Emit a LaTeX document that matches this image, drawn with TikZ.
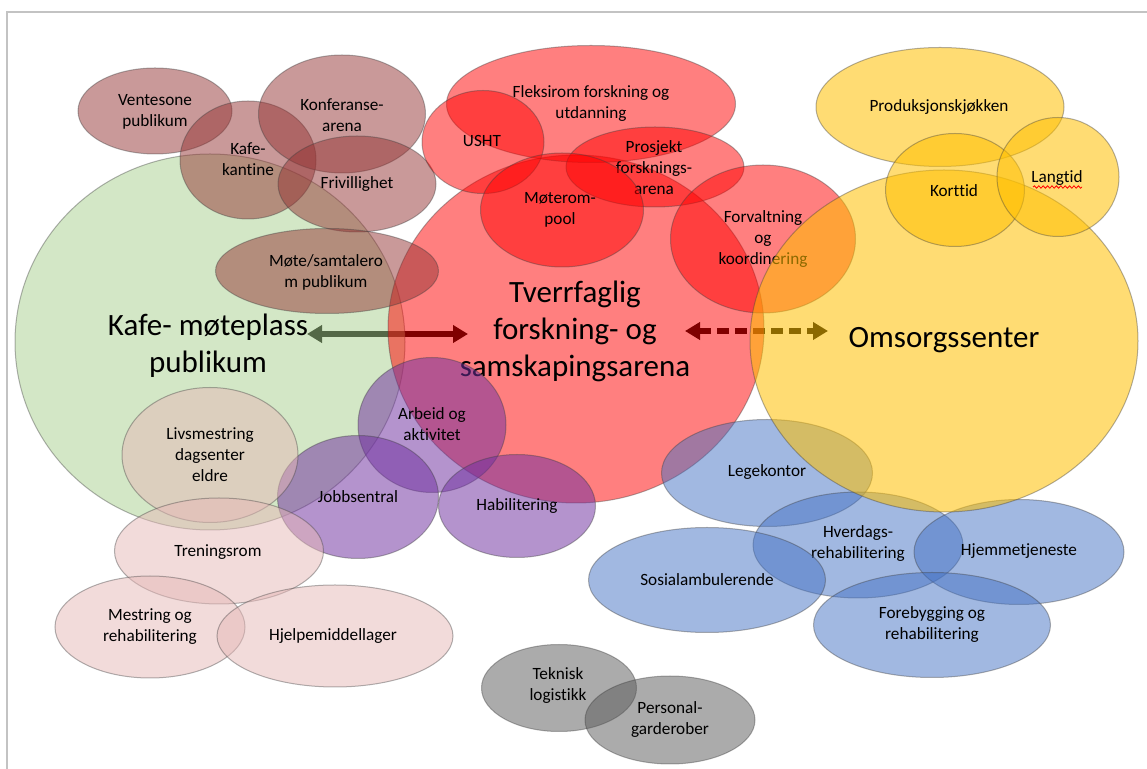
\documentclass[tikz,border=0pt]{standalone}
\usepackage{fontspec}
\setmainfont{Carlito}[Ligatures={NoCommon}]
\usetikzlibrary{shapes.geometric,arrows.meta,decorations.pathmorphing}

\definecolor{cGreen}{RGB}{169,209,142}
\definecolor{cRed}{RGB}{255,0,0}
\definecolor{cBrown}{RGB}{148,52,52}
\definecolor{cYellow}{RGB}{255,192,0}
\definecolor{cPurple}{RGB}{112,48,160}
\definecolor{cPink}{RGB}{230,184,183}
\definecolor{cBlue}{RGB}{68,114,196}
\definecolor{cGray}{RGB}{89,89,89}
\definecolor{cFrame}{RGB}{195,195,195}

\tikzset{
  blob/.style={ellipse, inner sep=0pt, outer sep=0pt, draw=black!75, draw opacity=0.4,
               line width=0.5pt, fill opacity=0.5},
  wh/.style 2 args={minimum width=#1*0.5pt, minimum height=#2*0.5pt},
  greenblob/.style={blob, fill=cGreen},
  redblob/.style={blob, fill=cRed},
  brownblob/.style={blob, fill=cBrown},
  yellowblob/.style={blob, fill=cYellow, fill opacity=0.55},
  purpleblob/.style={blob, fill=cPurple, fill opacity=0.52},
  pinkblob/.style={blob, fill=cPink},
  blueblob/.style={blob, fill=cBlue},
  grayblob/.style={blob, fill=cGray},
  lbl/.style={inner sep=0pt, align=center, font=\fontsize{8.6}{10.5}\selectfont},
  biglbl/.style={inner sep=0pt, align=center, font=\fontsize{15.5}{18.5}\selectfont},
  link/.style={draw=black, line width=2.6pt,
               {Triangle[length=7.5pt,width=8.5pt]}-{Triangle[length=7.5pt,width=8.5pt]}},
  frameline/.style={draw=cFrame, line width=0.8pt},
}

\begin{document}
\begin{tikzpicture}[x=0.5pt,y=-0.5pt]
\useasboundingbox (0,0) rectangle (1147,769);
\fill[white] (0,0) rectangle (1147,769);

% page frame
\coordinate (fr0) at (7,12);
\coordinate (fr1) at (7,769);
\coordinate (fr2) at (1147,12);
\draw[frameline] (fr1) -- (fr0) -- (fr2);

% links between the three main arenas (drawn first, under the circles)
\coordinate (a1l) at (307,334);
\coordinate (a1r) at (468,334);
\draw[link] (a1l) -- (a1r);
\coordinate (a2l) at (685,331);
\coordinate (a2r) at (828,331);
\draw[link, dash pattern=on 6pt off 3pt] (a2l) -- (a2r);

% cafe / meeting place
\node[greenblob, wh={390}{376}] (kafe) at (210,342) {};
\node[biglbl] (kafe-t) at (208,346) {Kafe- møteplass\\publikum};

% interdisciplinary arena
\node[redblob, wh={376}{348}] (tverr) at (576,329) {};
\node[biglbl] (tverr-t) at (575,331) {Tverrfaglig\\forskning- og\\samskapingsarena};

% public functions
\node[brownblob, wh={154}{86}] (vent) at (155,111) {};
\node[lbl] (vent-t) at (155,112) {Ventesone\\publikum};
\node[brownblob, wh={136}{118}] (kant) at (248,160) {};
\node[lbl] (kant-t) at (248,159) {Kafe-\\kantine};
\node[brownblob, wh={167}{118}] (konf) at (342,114) {};
\node[lbl] (konf-t) at (342,115) {Konferanse-\\arena};
\node[brownblob, wh={158}{96}] (friv) at (357,184) {};
\node[lbl] (friv-t) at (357,184) {Frivillighet};
\node[brownblob, wh={223}{85}] (mote) at (327,271) {};
\node[lbl] (mote-t) at (326,272) {Møte/samtalero\\m publikum};

% research rooms
\node[redblob, wh={289}{117}] (fleks) at (591,104) {};
\node[lbl] (fleks-t) at (591,104) {Fleksirom forskning og\\utdanning};
\node[redblob, wh={122}{103}] (usht) at (483,142) {};
\node[lbl] (usht-t) at (482,141) {USHT};
\node[redblob, wh={178}{80}] (prosj) at (655,167) {};
\node[lbl] (prosj-t) at (654,168) {Prosjekt\\forsknings-\\arena};
\node[redblob, wh={163}{114}] (moterom) at (562,210) {};
\node[lbl] (moterom-t) at (560,210) {Møterom-\\pool};
\node[redblob, wh={185}{148}] (forv) at (763,239) {};
\node[lbl] (forv-t) at (763,239) {Forvaltning\\og\\koordinering};

% work and activity
\node[purpleblob, wh={148}{135}] (arbeid) at (432,425) {};
\node[lbl] (arbeid-t) at (432,424) {Arbeid og\\aktivitet};
\node[purpleblob, wh={161}{123}] (jobb) at (358,497) {};
\node[lbl] (jobb-t) at (358,497) {Jobbsentral};
\node[purpleblob, wh={157}{103}] (habil) at (517,506) {};
\node[lbl] (habil-t) at (517,506) {Habilitering};

% training and coping
\node[pinkblob, wh={176}{135}] (livs) at (210,455) {};
\node[lbl] (livs-t) at (210,455) {Livsmestring\\dagsenter\\eldre};
\node[pinkblob, wh={209}{106}] (tren) at (219,551) {};
\node[lbl] (tren-t) at (218,552) {Treningsrom};
\node[pinkblob, wh={190}{102}] (mestr) at (150,627) {};
\node[lbl] (mestr-t) at (150,627) {Mestring og\\rehabilitering};
\node[pinkblob, wh={236}{102}] (hjelp) at (335,636) {};
\node[lbl] (hjelp-t) at (333,636) {Hjelpemiddellager};

% health services
\node[blueblob, wh={211}{107}] (lege) at (767,473) {};
\node[lbl] (lege-t) at (767,472) {Legekontor};
\node[blueblob, wh={210}{106}] (hverd) at (858,545) {};
\node[lbl] (hverd-t) at (858,544) {Hverdags-\\rehabilitering};
\node[blueblob, wh={210}{105}] (hjem) at (1019,552) {};
\node[lbl] (hjem-t) at (1019,551) {Hjemmetjeneste};
\node[blueblob, wh={237}{105}] (sosial) at (707,580) {};
\node[lbl] (sosial-t) at (707,580) {Sosialambulerende};
\node[blueblob, wh={237}{105}] (foreb) at (932,625) {};
\node[lbl] (foreb-t) at (932,625) {Forebygging og\\rehabilitering};

% care centre
\node[yellowblob, wh={388}{342}] (omsorg) at (944,341) {};
\node[biglbl] (omsorg-t) at (944,340) {Omsorgssenter};
\node[yellowblob, wh={248}{119}] (prod) at (940,107) {};
\node[lbl] (prod-t) at (939,107) {Produksjonskjøkken};
\node[yellowblob, wh={139}{113}] (kort) at (955,190) {};
\node[lbl] (kort-t) at (954,191) {Korttid};
\node[yellowblob, wh={122}{119}] (lang) at (1058,177) {};
\node[lbl] (lang-t) at (1057,178) {Langtid};
\coordinate (sq1) at (1033,187);
\coordinate (sq2) at (1082,187);
\draw[red, line width=0.4pt, decorate,
      decoration={snake, amplitude=0.6pt, segment length=2.2pt}] (sq1) -- (sq2);

% logistics
\node[grayblob, wh={155}{87}] (tekn) at (559,688) {};
\node[lbl] (tekn-t) at (558,686) {Teknisk\\logistikk};
\node[grayblob, wh={170}{88}] (pers) at (670,720) {};
\node[lbl] (pers-t) at (670,720) {Personal-\\garderober};
\end{tikzpicture}
\end{document}
